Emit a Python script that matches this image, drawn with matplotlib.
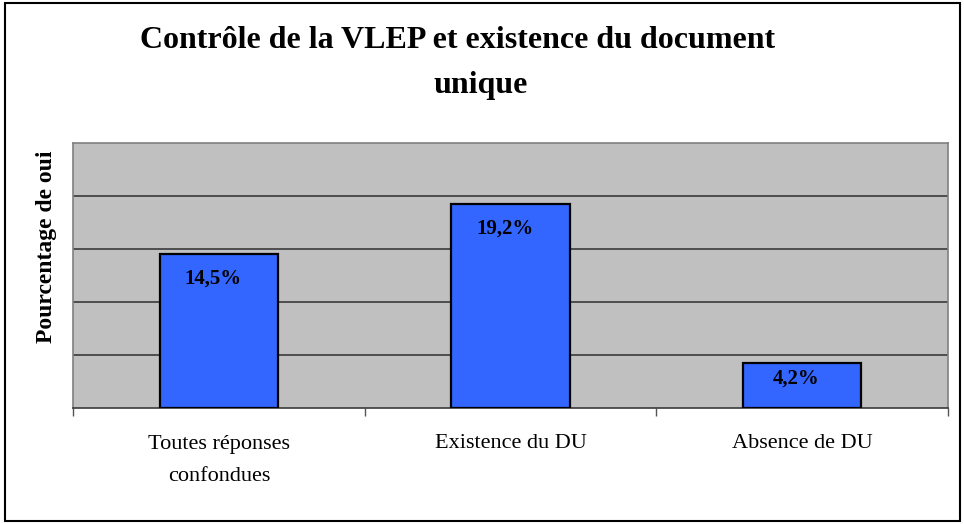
import matplotlib
matplotlib.use("Agg")
import matplotlib.pyplot as plt
from matplotlib.patches import Rectangle

categories = ["Toutes réponses\nconfondues", "Existence du DU", "Absence de DU"]
values = [14.5, 19.2, 4.2]
value_labels = ["14,5%", "19,2%", "4,2%"]
title_lines = ["Contrôle de la VLEP et existence du document", "unique"]
ylabel = "Pourcentage de oui"

W, H = 964, 524
fig = plt.figure(figsize=(W / 100, H / 100), dpi=100)
serif = ["Liberation Serif", "DejaVu Serif"]

# outer chart frame
fig.patches.append(Rectangle((5 / W, 3 / H), 955 / W, 518 / H, transform=fig.transFigure,
                             fill=False, edgecolor="black", linewidth=1.5))

ax = fig.add_axes([73 / W, 1 - 408 / H, 875 / W, 265 / H])
ax.set_facecolor("#C0C0C0")
ax.set_xlim(-0.5, len(values) - 0.5)
ax.set_ylim(0, 25)

for y in [5, 10, 15, 20]:
    ax.axhline(y, color="#3a3a3a", linewidth=1.2, zorder=1)

x = list(range(len(values)))
bars = ax.bar(x, values, width=0.405, color="#3366FF", edgecolor="black",
              linewidth=1.6, zorder=3)

for xi, v, lab in zip(x, values, value_labels):
    px_per_unit = 265 / 25
    off = min(24, v * px_per_unit * 0.34)
    ax.annotate(lab, (xi, v), xytext=(-4, -off * 0.72), textcoords="offset points",
                ha="center", va="center", fontsize=15, fontweight="bold",
                family=serif, zorder=4)

ax.set_yticks([])
ax.set_xticks([-0.5, 0.5, 1.5, 2.5])
ax.set_xticklabels([])
ax.tick_params(axis="x", direction="out", length=6, color="#555555", width=1)
for xi, c in zip(x, categories):
    ax.text(xi, -0.1, c, transform=ax.get_xaxis_transform(), ha="center", va="top",
            fontsize=16, family=serif, linespacing=1.95)

for side in ["left", "top", "right"]:
    ax.spines[side].set_color("#808080")
    ax.spines[side].set_linewidth(1.2)
ax.spines["bottom"].set_color("#3a3a3a")
ax.spines["bottom"].set_linewidth(1.2)

fig.text(458 / W, 1 - 40 / H, title_lines[0], ha="center", va="center",
         fontsize=23, fontweight="bold", family=serif)
fig.text(481 / W, 1 - 86 / H, title_lines[1], ha="center", va="center",
         fontsize=23, fontweight="bold", family=serif)

fig.text(47 / W, 1 - 247 / H, ylabel, rotation=90, ha="center", va="center",
         fontsize=17, fontweight="bold", family=serif)

fig.savefig("out.png", dpi=100)
